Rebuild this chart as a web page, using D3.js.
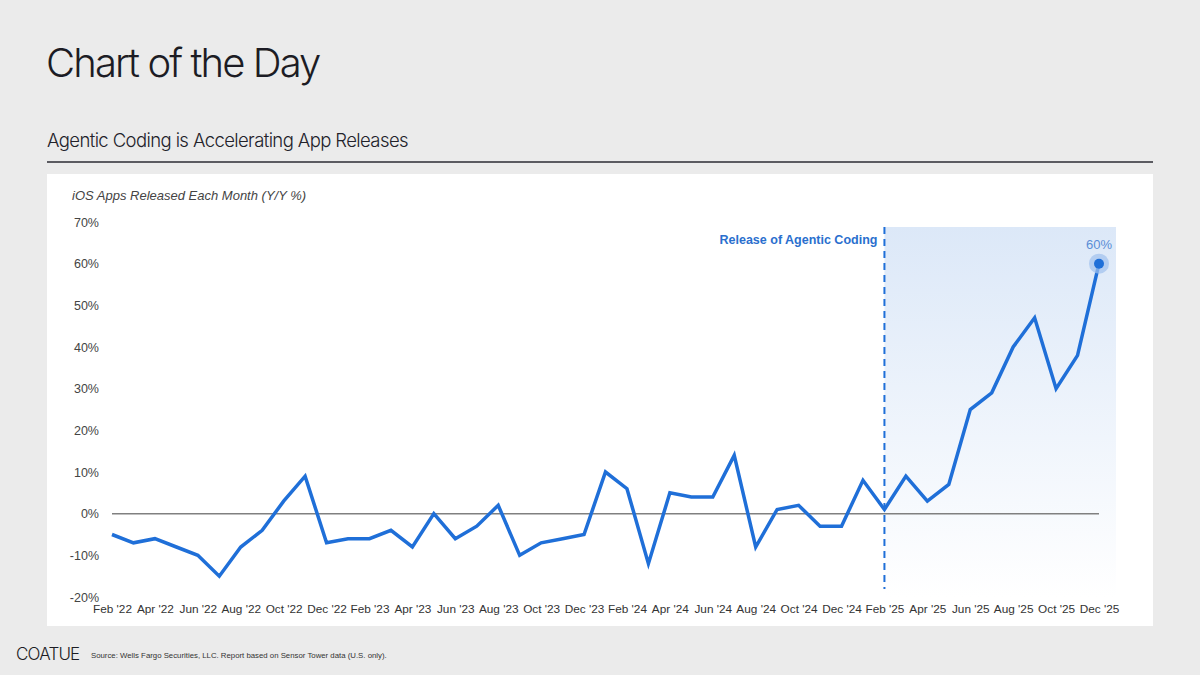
<!DOCTYPE html>
<html>
<head>
<meta charset="utf-8">
<script src="https://cdn.jsdelivr.net/npm/d3@7"></script>
<style>
  body { margin: 0; background: #ebebeb; }
  svg { display: block; }
</style>
</head>
<body>
<svg></svg>
<script>
let width = 1200, height = 675;

// months Feb '22 .. Dec '25
let months = ["Feb '22","Mar '22","Apr '22","May '22","Jun '22","Jul '22","Aug '22","Sep '22","Oct '22","Nov '22","Dec '22",
  "Jan '23","Feb '23","Mar '23","Apr '23","May '23","Jun '23","Jul '23","Aug '23","Sep '23","Oct '23","Nov '23","Dec '23",
  "Jan '24","Feb '24","Mar '24","Apr '24","May '24","Jun '24","Jul '24","Aug '24","Sep '24","Oct '24","Nov '24","Dec '24",
  "Jan '25","Feb '25","Mar '25","Apr '25","May '25","Jun '25","Jul '25","Aug '25","Sep '25","Oct '25","Nov '25","Dec '25"]

let yoy = [-5, -7, -6, -8, -10, -15, -8, -4, 3, 9, -7,
  -6, -6, -4, -8, 0, -6, -3, 2, -10, -7, -6, -5,
  10, 6, -12, 5, 4, 4, 14, -8, 1, 2, -3, -3,
  8, 1, 9, 3, 7, 25, 29, 40, 47, 30, 38, 60]

let yTicks = [-20, -10, 0, 10, 20, 30, 40, 50, 60, 70]
let xTickLabels = months.filter((m, i) => i % 2 == 0)
let releaseMonth = "Feb '25"

let blue = "#1f6fd8"

let svg = d3.select("svg")
    .attr("width", width)
    .attr("height", height)
    .style("font-family", "'Liberation Sans', Arial, sans-serif")

// header
svg.append("text")
    .attr("x", 46).attr("y", 77)
    .attr("font-family", "Inter, 'Liberation Sans', sans-serif")
    .attr("font-weight", 300)
    .attr("font-size", 40)
    .attr("letter-spacing", -1.9)
    .attr("fill", "#1c1c24")
    .text("Chart of the Day")

svg.append("text")
    .attr("x", 47).attr("y", 147)
    .attr("font-family", "Inter, 'Liberation Sans', sans-serif")
    .attr("font-weight", 300)
    .attr("font-size", 18.5)
    .attr("letter-spacing", -0.6)
    .attr("fill", "#22222a")
    .text("Agentic Coding is Accelerating App Releases")

svg.append("line")
    .attr("x1", 47).attr("x2", 1153)
    .attr("y1", 162).attr("y2", 162)
    .attr("stroke", "#2b2b33")
    .attr("stroke-width", 1.5)

// white panel
svg.append("rect")
    .attr("x", 47).attr("y", 174)
    .attr("width", 1106).attr("height", 452)
    .attr("fill", "#fff")

let x = d3.scalePoint()
    .domain(months)
    .range([112, 1099])

let y = d3.scaleLinear()
    .domain([-20, 70])
    .range([597, 222])

// shaded period after release
let defs = svg.append("defs")
let grad = defs.append("linearGradient")
    .attr("id", "shade")
    .attr("x1", 0).attr("x2", 0).attr("y1", 0).attr("y2", 1)
grad.append("stop").attr("offset", "0%").attr("stop-color", "#dce8f8")
grad.append("stop").attr("offset", "100%").attr("stop-color", "#ffffff")

svg.append("rect")
    .attr("x", x(releaseMonth))
    .attr("y", y(70) + 5)
    .attr("width", x(months[months.length - 1]) + 17 - x(releaseMonth))
    .attr("height", y(-20) - y(70) - 5)
    .attr("fill", "url(#shade)")

// y axis
let yAxis = d3.axisLeft(y)
    .tickValues(yTicks)
    .tickFormat(d => d + "%")
    .tickSize(0)
    .tickPadding(0)

svg.append("g")
    .attr("transform", "translate(99,0)")
    .call(yAxis)
    .call(g => g.select(".domain").remove())
    .selectAll("text")
    .attr("font-family", "'Liberation Sans', Arial, sans-serif")
    .attr("font-size", 12.5)
    .attr("fill", "#444")

// x axis
let xAxis = d3.axisBottom(x)
    .tickValues(xTickLabels)
    .tickSize(0)
    .tickPadding(0)

svg.append("g")
    .attr("transform", "translate(0,605)")
    .call(xAxis)
    .call(g => g.select(".domain").remove())
    .selectAll("text")
    .attr("font-family", "'Liberation Sans', Arial, sans-serif")
    .attr("font-size", 11.8)
    .attr("fill", "#333")

svg.append("text")
    .attr("x", 72).attr("y", 200)
    .attr("font-style", "italic")
    .attr("font-size", 13)
    .attr("fill", "#444")
    .text("iOS Apps Released Each Month (Y/Y %)")

// zero line
svg.append("line")
    .attr("x1", x(months[0])).attr("x2", x(months[months.length - 1]))
    .attr("y1", y(0)).attr("y2", y(0))
    .attr("stroke", "#808080")
    .attr("stroke-width", 1.5)

// release marker
svg.append("line")
    .attr("x1", x(releaseMonth)).attr("x2", x(releaseMonth))
    .attr("y1", y(70) + 5).attr("y2", y(-20) - 8)
    .attr("stroke", blue)
    .attr("stroke-width", 2)
    .attr("stroke-dasharray", "7,5")

svg.append("text")
    .attr("x", x(releaseMonth) - 7).attr("y", 244)
    .attr("text-anchor", "end")
    .attr("font-weight", "bold")
    .attr("font-size", 12.5)
    .attr("fill", "#2a6fce")
    .text("Release of Agentic Coding")

// series line
let line = d3.line()
    .x((d, i) => x(months[i]))
    .y(d => y(d))

svg.append("path")
    .datum(yoy)
    .attr("d", line)
    .attr("fill", "none")
    .attr("stroke", blue)
    .attr("stroke-width", 3.5)
    .attr("stroke-linejoin", "miter")

// last point highlight
let lastI = yoy.length - 1
svg.append("circle")
    .attr("cx", x(months[lastI])).attr("cy", y(yoy[lastI]))
    .attr("r", 10)
    .attr("fill", "#9fc0ee")
    .attr("opacity", 0.7)
svg.append("circle")
    .attr("cx", x(months[lastI])).attr("cy", y(yoy[lastI]))
    .attr("r", 5)
    .attr("fill", blue)
svg.append("text")
    .attr("x", x(months[lastI])).attr("y", y(yoy[lastI]) - 15)
    .attr("text-anchor", "middle")
    .attr("font-size", 13)
    .attr("fill", "#5a8ed6")
    .text(yoy[lastI] + "%")

// footer
svg.append("text")
    .attr("x", 16).attr("y", 660)
    .attr("font-family", "Inter, 'Liberation Sans', sans-serif")
    .attr("font-weight", 300)
    .attr("font-size", 17)
    .attr("letter-spacing", -0.8)
    .attr("fill", "#1c1c24")
    .text("COATUE")

svg.append("text")
    .attr("x", 91).attr("y", 658)
    .attr("font-size", 7.8)
    .attr("fill", "#333")
    .text("Source: Wells Fargo Securities, LLC. Report based on Sensor Tower data (U.S. only).")
</script>
</body>
</html>
